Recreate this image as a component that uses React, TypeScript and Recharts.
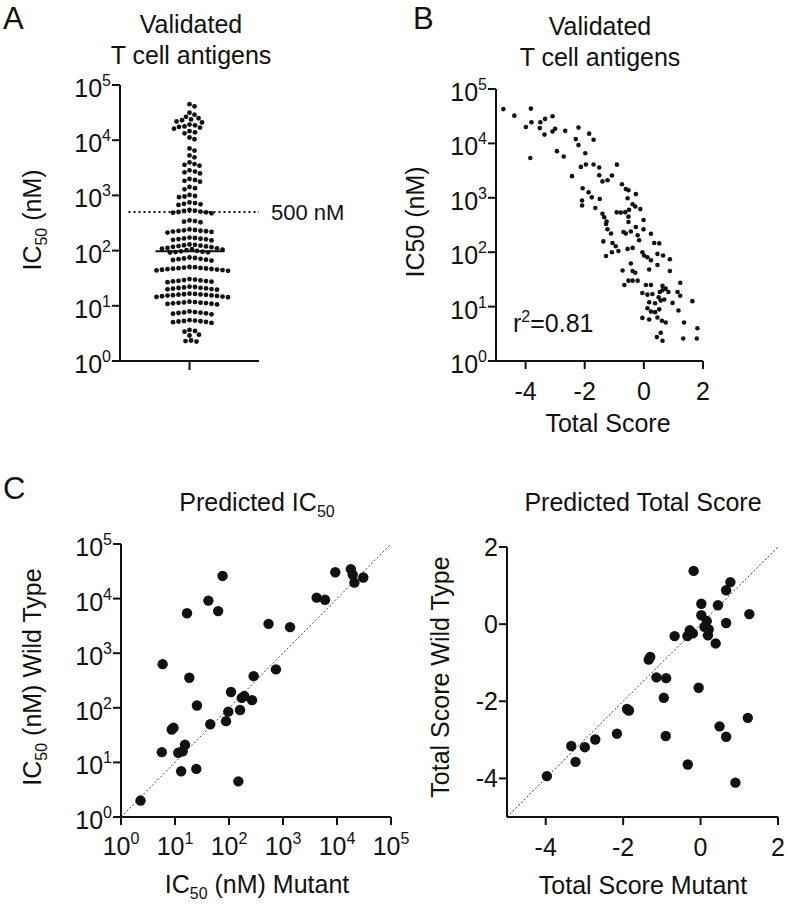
import React from "react";
import { ScatterChart, Scatter, XAxis, YAxis, ReferenceLine } from "recharts";

const FONT = '"Liberation Sans", Arial, Helvetica, sans-serif';
const INK = "#111";

// ---------- tick values ----------
const logTicks = [1, 10, 100, 1000, 10000, 100000];
const scoreTicks = [-4, -2, 0, 2];
const scoreDomain = [-5, 2];

// ---------- Panel A : IC50 (nM) of validated T cell antigens ----------
const antigenIC50: number[] = [
  45000, 41000,
  31500, 29000, 26500,
  25000, 23800, 23000, 21800, 21000,
  19200, 18600, 17800, 17400, 16900, 16200,
  14600, 13900, 13300,
  11200, 10400,
  7100, 6500,
  5300, 4900,
  3950, 3700, 3580, 3450,
  2850, 2700, 2620, 2500,
  1980, 1900, 1840, 1770,
  1420, 1350, 1290,
  1020, 975, 955, 930,
  745, 725, 705, 690, 672,
  545, 532, 522, 510, 500, 494, 486, 474,
  352, 342, 334, 326,
  242, 236, 233, 229, 227, 224, 221, 218, 212,
  172, 169, 166, 164, 162, 160, 157, 153,
  129, 127, 125, 123, 121, 119, 117, 115,
  112, 110, 108, 106, 104, 102,
  99, 97, 95.5, 94, 93, 92,
  75, 73.5, 72, 71, 70, 68.5, 67.5, 66,
  50.5, 50, 49.2, 48.6, 48, 47.4, 47, 46.4, 46, 45.4, 45, 44.3, 43.8, 43,
  30.5, 29.8, 29.2, 28.8, 28.4, 28.1, 27.8, 27.3, 26.8,
  22.2, 21.9, 21.5, 21.2, 21, 20.7, 20.4, 20.1, 19.9, 19.6,
  16.6, 16.4, 16.2, 16.1, 15.9, 15.8, 15.6, 15.4, 15.3, 15.1, 14.9, 14.7, 14.5, 14.3,
  11.9, 11.7, 11.5, 11.4, 11.3, 11.2, 11.1, 10.9, 10.8, 10.6,
  7.9, 7.7, 7.6, 7.5, 7.4, 7.3, 7.2, 7.0,
  5.5, 5.4, 5.3, 5.25, 5.2, 5.1, 5.05, 4.9,
  3.65, 3.5, 3.4,
  3.0, 2.9,
  2.35, 2.3, 2.25,
];
const thresholdNM = 500;

// ---------- Panel B : total score vs IC50 ----------
const bScore: number[] = [
  -4.75, -4.38, -3.82, -3.8, -3.99, -3.5, -3.34, -3.09, -3.52, -3.36,
  -3.09, -3.0, -2.66, -3.84, -2.94, -2.71, -2.21, -2.3, -2.21, -1.85,
  -1.7, -1.98, -2.43, -2.13, -1.96, -1.7, -1.51, -1.51, -1.4, -1.23,
  -1.08, -0.91, -2.07, -1.87, -1.76, -2.09, -2.09, -1.49, -1.64, -0.74,
  -0.61, -0.52, -0.27, -0.55, -0.38, -0.29, -0.12, -0.5, -0.92, -0.78,
  -0.63, -1.4, -1.34, -1.26, -0.52, -0.52, -0.01,
  -1.28, -1.23, -1.11, -1.37, -1.06, -0.95, -0.86, -1.08, -1.28, -0.69,
  -0.61, -0.44, -0.27, -0.21, -0.16, -0.01, 0.24, 0.35, 0.52, -0.55,
  -0.38, -0.05, 0.01, 0.12, 0.24, 0.46, 0.65, 0.88, -0.44, 0.46,
  0.18, -0.72, -0.38, -0.29, 0.88, -0.52, -0.38, -0.21, -0.66, 0.07,
  0.24, 0.63, 1.23, -0.05, 0.12, 0.29, 0.54, 0.63, 0.74, 0.83,
  1.14, 1.23, 0.5, 0.57, 0.69, 0.18, 0.38, 0.97, 1.64, 0.12,
  0.24, 0.38, 0.52, 1.17, -0.05, 0.18, 0.46, 0.61, 0.74, 1.36,
  1.81, 0.57, 0.44, 0.63, 1.33, 1.79,
];
const bIC50: number[] = [
  42700, 32400, 43600, 24500, 20000, 24500, 28200, 31600, 19100, 14500,
  16600, 18600, 17000, 5400, 7200, 5750, 19500, 12000, 9300, 15100,
  11700, 6600, 2500, 3700, 4100, 4100, 3600, 2600, 2000, 2100,
  2570, 4070, 1500, 1260, 1020, 890, 720, 950, 650, 1780,
  1450, 1380, 1170, 980, 760, 690, 620, 600, 540, 535,
  545, 510, 440, 365, 450, 360, 390,
  330, 265, 220, 158, 148, 129, 105, 100, 85, 235,
  220, 240, 290, 205, 166, 263, 219, 148, 145, 115,
  120, 100, 87, 81, 71, 93, 87, 74, 62, 58,
  48, 46, 45, 42, 45, 30, 30, 30, 25, 25,
  25, 24, 27.5, 17.8, 16.6, 17, 18.6, 20, 21.4, 18.6,
  18.6, 15.8, 14.8, 12.9, 13.5, 12, 11.5, 11.7, 12.6, 9.3,
  8.1, 7.9, 8.9, 8.5, 6.2, 5.8, 6.3, 5.5, 5.1, 5.1,
  4.0, 3.3, 2.75, 2.35, 2.6, 2.6,
];
const rSquared = "0.81";

// ---------- Panel C left : predicted IC50, mutant vs wild type ----------
const cMutantIC50: number[] = [
  2.3, 5.7, 5.9, 8.7, 9.4, 11.5, 13, 13.9, 15.3, 16.7, 18.4, 24.8, 25.5, 41.5, 45, 63, 76, 88,
  97, 109, 149, 160, 172, 192, 267, 286, 540, 740, 1350, 4200, 6000, 9300, 18000, 19500, 21000, 30700,
];
const cWildIC50: number[] = [
  2.0, 15.4, 630, 40, 43, 15, 6.9, 16, 21, 5400, 355, 7.6, 110, 9200, 50, 5900, 26000, 57,
  85, 195, 4.5, 91, 152, 164, 138, 380, 3450, 505, 3000, 10400, 9500, 30400, 34700, 27500, 19600, 24300,
];

// ---------- Panel C right : predicted total score, mutant vs wild type ----------
const cMutantScore: number[] = [
  -3.97, -3.34, -3.23, -2.99, -2.72, -2.16, -1.9, -1.85, -1.34, -1.3, -1.14, -0.89, -0.95,
  -0.9, -0.67, -0.34, -0.28, -0.2, -0.18, -0.33, -0.05, 0.02, 0.02, 0.1, 0.16, 0.21, 0.19,
  0.39, 0.45, 0.66, 0.66, 0.77, 1.26, 1.22, 0.49, 0.66, 0.9,
];
const cWildScore: number[] = [
  -3.94, -3.16, -3.57, -3.19, -2.99, -2.84, -2.2, -2.24, -0.92, -0.85, -1.38, -1.4, -1.91,
  -2.9, -0.31, -0.31, -0.16, -0.24, 1.38, -3.64, -1.65, 0.53, 0.23, -0.07, 0.08, -0.14, -0.29,
  -0.5, 0.49, 0.03, 0.88, 1.09, 0.26, -2.43, -2.65, -2.92, -4.11,
];

// ---------- layout ----------
const X_AXIS_H = 40;
const Y_AXIS_W = 60;
const A_W = 300, A_H = 420;
const A_MARGIN = { top: 85, right: 41, bottom: 19, left: 60 };
const A_PLOT_W = A_W - A_MARGIN.left - A_MARGIN.right - Y_AXIS_W;
const A_PLOT_H = A_H - A_MARGIN.top - A_MARGIN.bottom - X_AXIS_H;
const A_HALF = A_PLOT_W / 2;

const TICK_FS = 25;
const SUP_FS = 16;
const LABEL_FS = 25;

// beeswarm layout: horizontal offsets (px) so dots do not overlap
function swarm(values: number[], pxPerDecade: number, gap: number): number[] {
  const order = values.map((_, i) => i).sort((a, b) => values[b] - values[a]);
  const placed: { x: number; y: number }[] = [];
  const out: number[] = new Array(values.length).fill(0);
  for (const i of order) {
    const y = -Math.log10(values[i]) * pxPerDecade;
    let chosen = 0;
    for (let k = 0; k < 600; k++) {
      const off = k === 0 ? 0 : (k % 2 === 1 ? 1 : -1) * Math.ceil(k / 2) * 0.5;
      let ok = true;
      for (const p of placed) {
        const dx = p.x - off, dy = p.y - y;
        if (dx * dx + dy * dy < gap * gap) { ok = false; break; }
      }
      if (ok) { chosen = off; break; }
    }
    placed.push({ x: chosen, y });
    out[i] = chosen;
  }
  return out;
}

const aOffsets = swarm(antigenIC50, A_PLOT_H / 5, 5.2);
const aData = antigenIC50.map((v, i) => ({ x: aOffsets[i], y: v }));
const aSorted = [...antigenIC50].sort((a, b) => a - b);
const aMedian = aSorted[Math.floor(aSorted.length / 2)];

const bData = bScore.map((s, i) => ({ x: s, y: bIC50[i] }));
const cLeftData = cMutantIC50.map((m, i) => ({ x: m, y: cWildIC50[i] }));
const cRightData = cMutantScore.map((m, i) => ({ x: m, y: cWildScore[i] }));

// ---------- ticks ----------
const LogYTick = (props: any) => {
  const { x, y, payload } = props;
  const exp = Math.round(Math.log10(payload.value));
  return (
    <text x={x} y={y + 12} textAnchor="end" fill={INK} fontFamily={FONT} fontSize={TICK_FS}>
      10
      <tspan fontSize={SUP_FS} dy={-11}>{exp}</tspan>
    </text>
  );
};
const LogXTick = (props: any) => {
  const { x, y, payload } = props;
  const exp = Math.round(Math.log10(payload.value));
  return (
    <text x={x} y={y + 28} textAnchor="middle" fill={INK} fontFamily={FONT} fontSize={TICK_FS}>
      10
      <tspan fontSize={SUP_FS} dy={-11}>{exp}</tspan>
    </text>
  );
};
const NumXTick = (props: any) => {
  const { x, y, payload } = props;
  return (
    <text x={x} y={y + 29} textAnchor="middle" fill={INK} fontFamily={FONT} fontSize={TICK_FS}>
      {String(payload.value)}
    </text>
  );
};
const NumYTick = (props: any) => {
  const { x, y, payload } = props;
  return (
    <text x={x} y={y + 9} textAnchor="end" fill={INK} fontFamily={FONT} fontSize={TICK_FS}>
      {String(payload.value)}
    </text>
  );
};
const EmptyTick = () => <g />;

const axisLine = { stroke: INK, strokeWidth: 2 };
const tickLine = { stroke: INK, strokeWidth: 2 };

const dot = (r: number) => (p: any) => <circle cx={p.cx} cy={p.cy} r={r} fill={INK} />;

// ---------- text overlay helper ----------
const T = (p: any) => (
  <text fontFamily={FONT} fill={INK} fontSize={LABEL_FS} {...p} />
);

export default function App() {
  return (
    <div style={{ position: "absolute", left: 0, top: 0, width: 787, height: 909, background: "#fff" }}>
      {/* Panel A */}
      <div style={{ position: "absolute", left: 0, top: 0 }}>
        <ScatterChart width={A_W} height={A_H} margin={A_MARGIN}>
          <XAxis type="number" dataKey="x" domain={[-A_HALF, A_HALF]} ticks={[0]} tick={EmptyTick}
            height={X_AXIS_H} axisLine={axisLine} tickLine={tickLine} tickSize={9} interval={0} allowDataOverflow />
          <YAxis type="number" dataKey="y" scale="log" domain={[1, 100000]} ticks={logTicks} interval={0}
            width={Y_AXIS_W} axisLine={axisLine} tickLine={tickLine} tickSize={8} tickMargin={1}
            tick={LogYTick} allowDataOverflow />
          <ReferenceLine segment={[{ x: -61, y: thresholdNM }, { x: A_HALF, y: thresholdNM }]}
            stroke={INK} strokeWidth={2} strokeDasharray="2 3" ifOverflow="visible" />
          <ReferenceLine segment={[{ x: -34, y: aMedian }, { x: 35, y: aMedian }]}
            stroke={INK} strokeWidth={2} ifOverflow="visible" />
          <Scatter data={aData} shape={dot(2.4)} isAnimationActive={false} />
        </ScatterChart>
      </div>

      {/* Panel B */}
      <div style={{ position: "absolute", left: 390, top: 0 }}>
        <ScatterChart width={397} height={420} margin={{ top: 89, right: 84, bottom: 19, left: 46 }}>
          <XAxis type="number" dataKey="x" domain={scoreDomain} ticks={scoreTicks} interval={0}
            height={X_AXIS_H} axisLine={axisLine} tickLine={tickLine} tickSize={8} tickMargin={2}
            tick={NumXTick} allowDataOverflow />
          <YAxis type="number" dataKey="y" scale="log" domain={[1, 100000]} ticks={logTicks} interval={0}
            width={Y_AXIS_W} axisLine={axisLine} tickLine={tickLine} tickSize={8} tickMargin={1}
            tick={LogYTick} allowDataOverflow />
          <Scatter data={bData} shape={dot(2.3)} isAnimationActive={false} />
        </ScatterChart>
      </div>

      {/* Panel C left */}
      <div style={{ position: "absolute", left: 0, top: 430 }}>
        <ScatterChart width={420} height={479} margin={{ top: 114, right: 29, bottom: 52, left: 61 }}>
          <XAxis type="number" dataKey="x" scale="log" domain={[1, 100000]} ticks={logTicks} interval={0}
            height={X_AXIS_H} axisLine={axisLine} tickLine={tickLine} tickSize={8} tickMargin={2}
            tick={LogXTick} allowDataOverflow />
          <YAxis type="number" dataKey="y" scale="log" domain={[1, 100000]} ticks={logTicks} interval={0}
            width={Y_AXIS_W} axisLine={axisLine} tickLine={tickLine} tickSize={8} tickMargin={1}
            tick={LogYTick} allowDataOverflow />
          <ReferenceLine segment={[{ x: 1, y: 1 }, { x: 100000, y: 100000 }]}
            stroke="#444" strokeWidth={1} strokeDasharray="2 2" ifOverflow="visible" />
          <Scatter data={cLeftData} shape={dot(5.2)} isAnimationActive={false} />
        </ScatterChart>
      </div>

      {/* Panel C right */}
      <div style={{ position: "absolute", left: 400, top: 430 }}>
        <ScatterChart width={387} height={479} margin={{ top: 117, right: 9, bottom: 52, left: 47 }}>
          <XAxis type="number" dataKey="x" domain={scoreDomain} ticks={scoreTicks} interval={0}
            height={X_AXIS_H} axisLine={axisLine} tickLine={tickLine} tickSize={8} tickMargin={2}
            tick={NumXTick} allowDataOverflow />
          <YAxis type="number" dataKey="y" domain={scoreDomain} ticks={scoreTicks} interval={0}
            width={Y_AXIS_W} axisLine={axisLine} tickLine={tickLine} tickSize={8} tickMargin={1}
            tick={NumYTick} allowDataOverflow />
          <ReferenceLine segment={[{ x: -5, y: -5 }, { x: 2, y: 2 }]}
            stroke="#444" strokeWidth={1} strokeDasharray="2 2" ifOverflow="visible" />
          <Scatter data={cRightData} shape={dot(5.2)} isAnimationActive={false} />
        </ScatterChart>
      </div>

      {/* Text overlay */}
      <svg width={787} height={909} style={{ position: "absolute", left: 0, top: 0, pointerEvents: "none" }}>
        {/* A */}
        <T x={3} y={29} fontSize={31}>A</T>
        <T x={191} y={33} textAnchor="middle">Validated</T>
        <T x={191} y={64} textAnchor="middle">T cell antigens</T>
        <T transform="translate(41,220) rotate(-90)" textAnchor="middle">
          IC<tspan fontSize={SUP_FS} dy={6}>50</tspan><tspan dy={-6}>{"\u00A0(nM)"}</tspan>
        </T>
        <T x={271} y={220} fontSize={22}>500 nM</T>

        {/* B */}
        <T x={413} y={29} fontSize={31}>B</T>
        <T x={600} y={35} textAnchor="middle">Validated</T>
        <T x={600} y={66} textAnchor="middle">T cell antigens</T>
        <T transform="translate(424,222) rotate(-90)" textAnchor="middle">IC50 (nM)</T>
        <T x={513} y={332}>
          r<tspan fontSize={SUP_FS} dy={-10}>2</tspan><tspan dy={10}>{"=" + rSquared}</tspan>
        </T>
        <T x={608} y={432} textAnchor="middle">Total Score</T>

        {/* C */}
        <T x={3} y={499} fontSize={31}>C</T>
        <T x={257} y={511} textAnchor="middle">
          Predicted IC<tspan fontSize={SUP_FS} dy={6}>50</tspan>
        </T>
        <T transform="translate(41,677) rotate(-90)" textAnchor="middle">
          IC<tspan fontSize={SUP_FS} dy={6}>50</tspan><tspan dy={-6}>{"\u00A0(nM) Wild Type"}</tspan>
        </T>
        <T x={257} y={893} textAnchor="middle">
          IC<tspan fontSize={SUP_FS} dy={6}>50</tspan><tspan dy={-6}>{"\u00A0(nM) Mutant"}</tspan>
        </T>
        <T x={643} y={511} textAnchor="middle">Predicted Total Score</T>
        <T transform="translate(449,677) rotate(-90)" textAnchor="middle">Total Score Wild Type</T>
        <T x={643} y={894} textAnchor="middle">Total Score Mutant</T>
      </svg>
    </div>
  );
}
